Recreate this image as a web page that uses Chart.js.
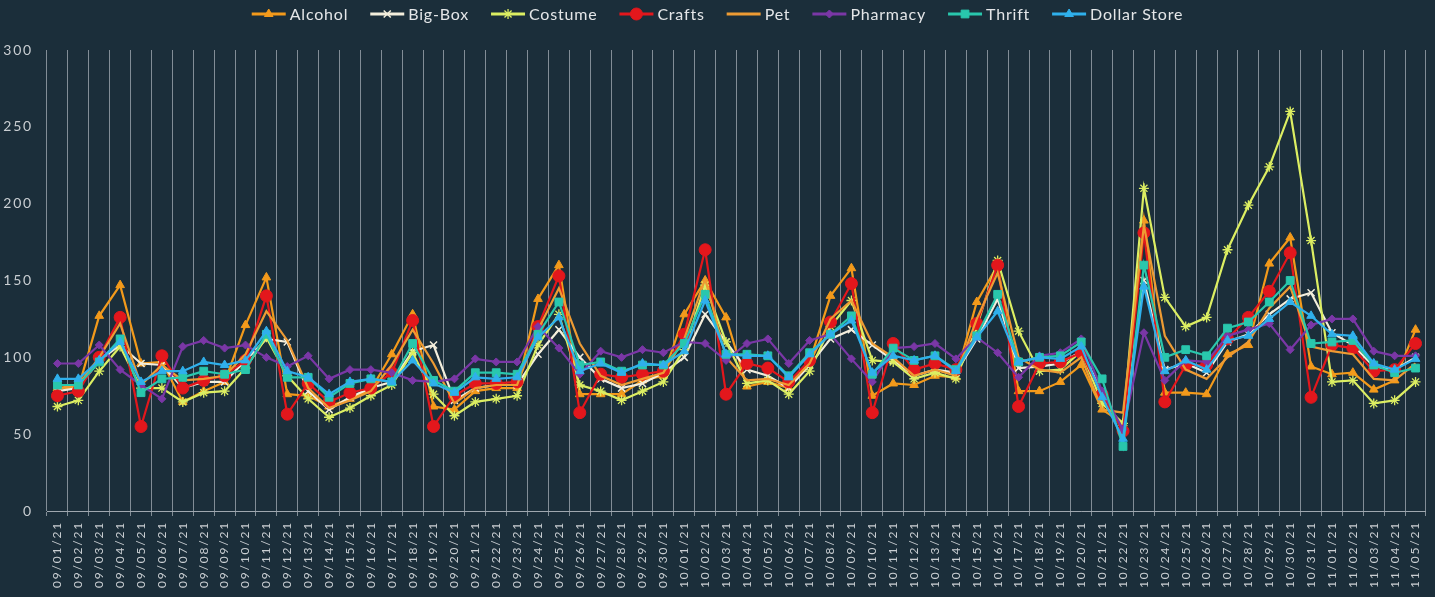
<!DOCTYPE html>
<html>
<head>
<meta charset="utf-8">
<script src="https://cdn.jsdelivr.net/npm/chart.js@4/dist/chart.umd.min.js"></script>
<style>
  html, body { margin: 0; padding: 0; background: #1b2e3a; }
  #wrap { width: 1435px; height: 597px; position: relative; }
</style>
</head>
<body>
<div id="wrap"><canvas id="line-chart"></canvas></div>
<script>
var dates = [
  '09/01/21','09/02/21','09/03/21','09/04/21','09/05/21','09/06/21','09/07/21','09/08/21','09/09/21','09/10/21',
  '09/11/21','09/12/21','09/13/21','09/14/21','09/15/21','09/16/21','09/17/21','09/18/21','09/19/21','09/20/21',
  '09/21/21','09/22/21','09/23/21','09/24/21','09/25/21','09/26/21','09/27/21','09/28/21','09/29/21','09/30/21',
  '10/01/21','10/02/21','10/03/21','10/04/21','10/05/21','10/06/21','10/07/21','10/08/21','10/09/21','10/10/21',
  '10/11/21','10/12/21','10/13/21','10/14/21','10/15/21','10/16/21','10/17/21','10/18/21','10/19/21','10/20/21',
  '10/21/21','10/22/21','10/23/21','10/24/21','10/25/21','10/26/21','10/27/21','10/28/21','10/29/21','10/30/21',
  '10/31/21','11/01/21','11/02/21','11/03/21','11/04/21','11/05/21'
];

var alcohol = [80,80,127,147,96,97,71,78,84,121, 152,76,75,68,73,79,102,128,68,66, 78,80,80,138,160,76,76,76,85,88,
  128,150,126,81,84,80,97,140,158,75, 83,82,88,87,136,160,78,78,84,95, 66,57,189,77,77,76,102,108,161,178, 94,89,90,79,85,118];
var bigBox = [78,80,98,108,96,95,80,84,84,98, 112,110,78,66,74,80,84,104,108,72, 80,82,82,102,118,100,86,80,83,90,
  100,128,110,92,88,80,95,112,118,108, 98,88,92,90,112,138,93,94,96,104, 78,52,150,92,96,90,110,115,128,138, 142,116,108,94,92,100];
var costume = [68,72,91,107,80,80,71,77,78,93, 113,88,73,61,67,75,82,103,76,62, 71,73,75,108,128,82,78,72,78,84,
  105,147,110,83,85,76,91,120,137,98, 97,86,90,86,120,163,117,91,92,104, 70,57,210,139,120,126,170,199,224,260, 176,84,85,70,72,84];
var crafts = [75,78,100,126,55,101,80,85,88,98, 140,63,83,71,77,80,90,124,55,75, 83,83,84,120,153,64,89,87,89,91,
  115,170,76,96,93,84,98,123,148,64, 109,92,96,92,122,160,68,96,97,103, 76,52,181,71,95,95,112,126,143,168, 74,108,106,91,92,109];
var pet = [80,82,100,122,82,95,85,86,88,102, 130,111,80,67,72,78,95,118,96,70, 80,82,82,118,145,109,88,82,86,90,
  112,151,100,85,86,82,96,125,137,109, 100,88,92,88,125,155,100,92,90,100, 66,64,186,114,92,86,100,110,132,146, 107,104,102,86,85,96];
var pharmacy = [96,96,108,92,82,73,107,111,106,108, 100,94,101,86,92,92,90,85,84,86, 99,97,97,120,106,89,104,100,105,103,
  110,109,98,109,112,96,111,115,99,84, 106,107,109,99,113,103,87,101,103,112, 78,53,116,85,98,97,114,118,122,105, 121,125,125,104,101,101];
var thrift = [82,82,97,112,77,86,87,91,89,92, 115,87,87,74,83,86,84,109,85,78, 90,90,89,115,136,95,97,91,95,95,
  109,141,102,102,101,88,103,115,127,89, 106,98,101,92,114,141,97,100,101,110, 86,42,160,100,105,101,119,123,136,150, 109,110,111,95,90,93];
var dollarStore = [86,86,98,110,84,91,91,97,95,98, 117,91,87,76,84,86,84,98,83,77, 87,86,87,113,126,91,96,90,96,95,
  104,137,102,101,101,87,102,115,124,90, 101,98,101,91,113,130,97,100,99,107, 74,47,146,91,98,92,111,114,125,136, 127,115,114,96,92,99];

var yTicks = [0, 50, 100, 150, 200, 250, 300];

function series(label, data, color, style, radius, extra) {
  var d = {
    label: label,
    data: data,
    borderColor: color,
    backgroundColor: color,
    pointBackgroundColor: color,
    pointBorderColor: color,
    pointStyle: style,
    pointRadius: radius,
    pointHoverRadius: radius,
    pointBorderWidth: 1,
    borderWidth: 2.2,
    tension: 0,
    fill: false
  };
  for (var k in extra) d[k] = extra[k];
  return d;
}

var datasets = [
  series('Alcohol', alcohol, '#f39a1b', 'triangle', 5, { order: 7 }),
  series('Big-Box', bigBox, '#f3eedc', 'crossRot', 5, { order: 6, pointBorderWidth: 1.5 }),
  series('Costume', costume, '#dcee62', 'star', 5, { order: 5, pointBorderWidth: 1.3 }),
  series('Crafts', crafts, '#e3171c', 'circle', 6, { order: 4 }),
  series('Pet', pet, '#ee9b33', 'line', 0, { order: 3 }),
  series('Pharmacy', pharmacy, '#7a37a6', 'rectRot', 4, { order: 2 }),
  series('Thrift', thrift, '#29c7ad', 'rect', 5.5, { order: 1 }),
  series('Dollar Store', dollarStore, '#2fb0ec', 'triangle', 5, { order: 0 })
];

// x labels are spaced out, y labels are not
var spacingPlugin = {
  id: 'spacing',
  beforeDraw: function (chart) { chart.ctx.letterSpacing = '1.8px'; },
  beforeDatasetsDraw: function (chart) { chart.ctx.letterSpacing = '0px'; }
};

// legend with line + marker, like the original
var lineLegend = {
  id: 'lineLegend',
  afterDraw: function (chart) {
    var ctx = chart.ctx;
    var sets = chart.data.datasets;
    ctx.save();
    ctx.letterSpacing = '0.8px';
    ctx.font = '16px Lato';
    var sample = 34, gap = 4, spacing = 22, y = 14;
    var widths = sets.map(function (d) { return ctx.measureText(d.label).width; });
    var total = 0;
    widths.forEach(function (w) { total += sample + gap + w; });
    total += spacing * (sets.length - 1);
    var x = (chart.width - total) / 2;
    sets.forEach(function (d, i) {
      ctx.strokeStyle = d.borderColor;
      ctx.lineWidth = 3;
      ctx.beginPath();
      ctx.moveTo(x, y);
      ctx.lineTo(x + sample, y);
      ctx.stroke();
      if (d.pointRadius > 0 && Chart.helpers && Chart.helpers.drawPoint) {
        ctx.fillStyle = d.pointBackgroundColor;
        ctx.strokeStyle = d.pointBorderColor;
        ctx.lineWidth = d.pointBorderWidth;
        Chart.helpers.drawPoint(ctx, {
          pointStyle: d.pointStyle, radius: d.pointRadius, rotation: 0, borderWidth: d.pointBorderWidth
        }, x + sample / 2, y);
      }
      ctx.fillStyle = '#e4e6e8';
      ctx.textBaseline = 'middle';
      ctx.textAlign = 'left';
      ctx.fillText(d.label, x + sample + gap, y + 1);
      x += sample + gap + widths[i] + spacing;
    });
    ctx.restore();
  }
};

var ctx = document.getElementById('line-chart');
var chart = new Chart(ctx, {
  type: 'line',
  data: { labels: dates, datasets: datasets },
  plugins: [spacingPlugin, lineLegend],
  options: {
    responsive: true,
    maintainAspectRatio: false,
    animation: false,
    layout: {
      padding: { top: 50, right: 8, left: 0, bottom: 0 }
    },
    plugins: {
      legend: { display: false },
      tooltip: { enabled: false }
    },
    scales: {
      x: {
        offset: true,
        grid: {
          offset: true,
          color: 'rgba(215,220,225,0.55)',
          lineWidth: 1,
          tickLength: 5
        },
        border: { color: 'rgba(215,220,225,0.7)' },
        ticks: {
          color: '#c9ced2',
          font: { family: 'Lato', size: 12 },
          minRotation: 90,
          maxRotation: 90,
          autoSkip: false,
          padding: 5
        },
        afterFit: function (s) { s.height = 86; }
      },
      y: {
        z: 1,
        min: 0,
        max: 300,
        afterBuildTicks: function (s) {
          s.ticks = yTicks.map(function (v) { return { value: v }; });
        },
        grid: { display: false, drawTicks: false },
        border: { display: false },
        ticks: {
          color: '#c9ced2',
          font: { family: 'Lato', size: 14 },
          padding: 14
        },
        afterFit: function (s) { s.width = 47; }
      }
    }
  }
});
</script>
</body>
</html>
